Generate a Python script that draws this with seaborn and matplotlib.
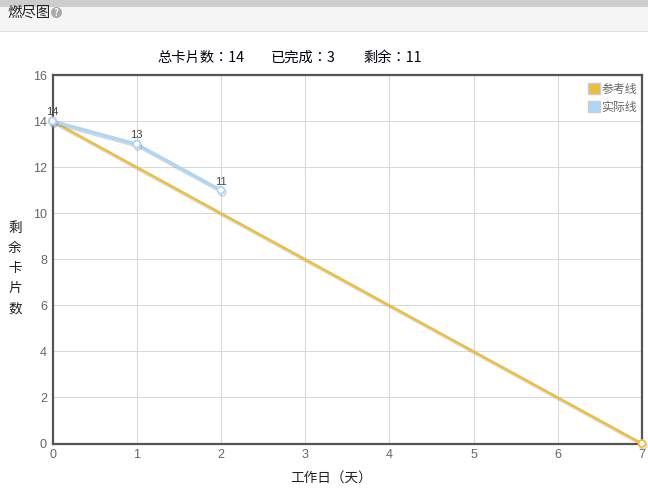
import matplotlib
matplotlib.use("Agg")
import matplotlib.pyplot as plt
import matplotlib.patheffects as pe
from matplotlib.patches import Rectangle, Patch, Circle
import pandas as pd
import seaborn as sns

title = "燃尽图"
summary_labels = ["总卡片数：14", "已完成：3", "剩余：11"]
ylabel_chars = ["剩", "余", "卡", "片", "数"]
xlabel = "工作日（天）"
ref_days = [0, 7]
ref_vals = [14, 0]
act_days = [0, 1, 2]
act_vals = [14, 13, 11]
series_names = ["参考线", "实际线"]
colors = ["#EBBF3C", "#AED6F6"]

sns.set_theme(style="white")
plt.rcParams['font.family'] = ['Noto Sans CJK SC', 'DejaVu Sans']

W, H = 648, 497
fig = plt.figure(figsize=(W / 100, H / 100), dpi=100, facecolor="white")
L, R, T, B = 52.5, 642, 75, 443.5
ax = fig.add_axes([L / W, 1 - B / H, (R - L) / W, (B - T) / H])

# page header
fig.add_artist(Rectangle((0, 1 - 7 / H), 1, 7 / H, transform=fig.transFigure, fc="#CDCDCD", ec="none"))
fig.add_artist(Rectangle((0, 1 - 31 / H), 1, 24 / H, transform=fig.transFigure, fc="#F5F5F5", ec="none"))
fig.add_artist(Rectangle((0, 1 - 32 / H), 1, 1 / H, transform=fig.transFigure, fc="#DDDDDD", ec="none"))
fig.text(7.5 / W, 1 - 12.5 / H, title, fontsize=10.4, color="#222222", va="center", ha="left")
fig.add_artist(Circle((56.5, H - 12.5), 5.5, transform=None, fc="#A9A9A9", ec="none"))
fig.text(56.5 / W, 1 - 12.5 / H, "?", fontsize=7, color="white", va="center", ha="center", weight="bold")

for lab, x in zip(summary_labels, [157, 271, 363]):
    fig.text(x / W, 1 - 58 / H, lab, fontsize=10.3, color="#000011", va="center", ha="left",
             family=["Noto Sans CJK TC", "DejaVu Sans"])

shadow = [pe.SimpleLineShadow(offset=(1.0, -1.6), shadow_color="#999999", alpha=0.4), pe.Normal()]
ref_df = pd.DataFrame({"day": ref_days, "val": ref_vals})
act_df = pd.DataFrame({"day": act_days, "val": act_vals})

sns.lineplot(data=ref_df, x="day", y="val", ax=ax, color=colors[0], lw=1.7, zorder=4,
             marker="o", markersize=5, markerfacecolor="white", markeredgecolor=colors[0],
             markeredgewidth=1.3, clip_on=False, errorbar=None, path_effects=shadow)
sns.lineplot(data=act_df, x="day", y="val", ax=ax, color=colors[1], lw=2.2, zorder=5,
             marker="o", markersize=5, markerfacecolor="white", markeredgecolor=colors[1],
             markeredgewidth=1.3, clip_on=False, errorbar=None, path_effects=shadow)

for d, v in zip(act_days, act_vals):
    ax.annotate(str(v), (d, v), xytext=(0, 2.6), textcoords="offset points", ha="center", va="bottom",
                fontsize=8, color="#444444", zorder=6, family="Liberation Sans")

ax.set_xlim(0, 7)
ax.set_ylim(0, 16)
ax.set_xticks(range(0, 8))
ax.set_yticks(range(0, 17, 2))
ax.grid(True, color="#D8D8D8", lw=0.75)
ax.set_axisbelow(True)
ax.set_xlabel("")
ax.set_ylabel("")
ax.tick_params(length=0, pad=4, labelsize=9, labelcolor="#666666")
for t in ax.get_xticklabels() + ax.get_yticklabels():
    t.set_family("Liberation Sans")
for s in ax.spines.values():
    s.set_visible(True)
    s.set_color("#555555")
    s.set_linewidth(1.6)

fig.text(331 / W, 1 - 477.5 / H, xlabel, fontsize=9.8, color="#222222", ha="center", va="center",
         family=["Noto Sans CJK TC", "DejaVu Sans"])
for ch, y in zip(ylabel_chars, [228, 248, 268, 288, 308]):
    fig.text(15 / W, 1 - y / H, ch, fontsize=9.8, color="#222222", ha="center", va="center")

handles = [Patch(fc=c, ec="#CCCCCC", lw=1.0) for c in colors]
leg = ax.legend(handles, series_names, loc="upper left", frameon=False,
                bbox_to_anchor=((587.5 - L) / (R - L), 1 - (82.5 - T) / (B - T)),
                fontsize=8.6, labelcolor="#666666", handlelength=1.08, handleheight=1.1,
                handletextpad=0.1, labelspacing=0.42, borderpad=0, borderaxespad=0)

fig.savefig("out.png", dpi=100)
